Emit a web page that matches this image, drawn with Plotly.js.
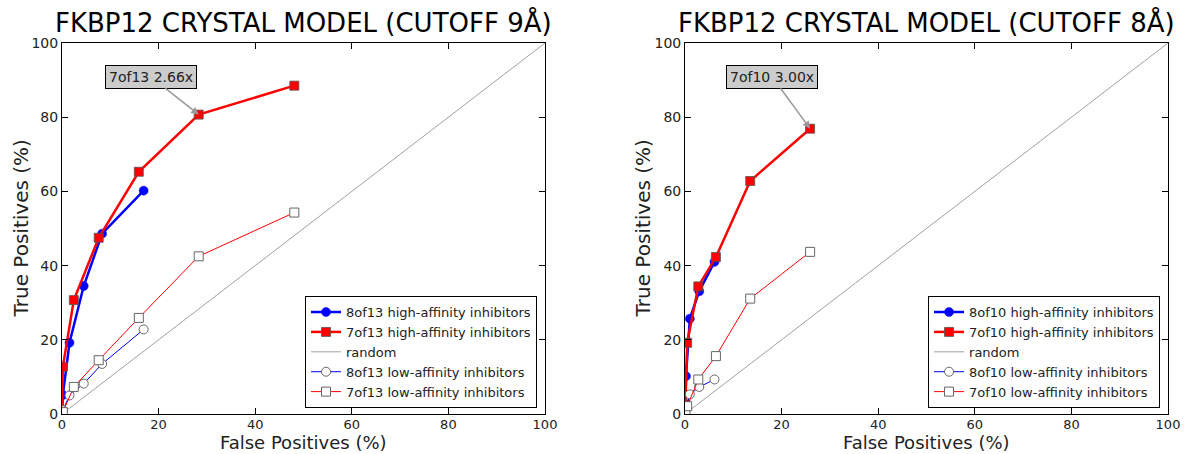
<!DOCTYPE html>
<html>
<head>
<meta charset="utf-8">
<script src="https://cdn.plot.ly/plotly-3.0.1.min.js"></script>
<style>html,body{margin:0;padding:0;background:#fff;}#chart{width:1190px;height:454px;}</style>
</head>
<body>
<div id="chart"></div>
<script>
// ---- Left panel: cutoff 9 Å ----
const leftTitle = "FKBP12 CRYSTAL MODEL (CUTOFF 9Å)";
const leftFP8 = [0, 0.17, 1.55, 4.5, 8.3, 16.9];
const leftTP8High = [0, 5.1, 19.2, 34.5, 48.6, 60.2];
const leftTP8Low = [0, 1.0, 5.0, 8.2, 13.5, 22.8];
const leftFP7 = [0, 0.17, 2.45, 7.6, 15.9, 28.3, 48.1];
const leftTP7High = [0, 12.7, 30.7, 47.5, 65.3, 80.7, 88.5];
const leftTP7Low = [0, 0.5, 7.3, 14.5, 25.9, 42.5, 54.3];
const leftNames = ["8of13 high-affinity inhibitors", "7of13 high-affinity inhibitors", "random", "8of13 low-affinity inhibitors", "7of13 low-affinity inhibitors"];
const leftNote = {text: "7of13 2.66x", x: 28.3, y: 80.7};

// ---- Right panel: cutoff 8 Å ----
const rightTitle = "FKBP12 CRYSTAL MODEL (CUTOFF 8Å)";
const rightFP8 = [0, 0.2, 1.0, 2.95, 6.1];
const rightTP8High = [0, 10.2, 25.7, 33.1, 41.0];
const rightTP8Low = [0, 1.5, 5.3, 7.3, 9.3];
const rightFP7 = [0, 0.1, 0.45, 2.75, 6.4, 13.5, 25.9];
const rightTP7High = [0, 2.6, 19.2, 34.4, 42.3, 62.8, 76.9];
const rightTP7Low = [0, 0.3, 2.1, 9.3, 15.6, 31.1, 43.7];
const rightNames = ["8of10 high-affinity inhibitors", "7of10 high-affinity inhibitors", "random", "8of10 low-affinity inhibitors", "7of10 low-affinity inhibitors"];
const rightNote = {text: "7of10 3.00x", x: 25.9, y: 76.9};

const xTitle = "False Positives (%)";
const yTitle = "True Positives (%)";
const randomLine = [0, 100];
const xTicks = [0, 20, 40, 60, 80, 100];
const yTicks = [0, 20, 40, 60, 80, 100];

function panel(fp8, tp8h, tp8l, fp7, tp7h, tp7l, names, xa, ya, leg) {
  return [
    {x: fp8, y: tp8h, name: names[0], mode: "lines+markers", xaxis: xa, yaxis: ya, legend: leg,
     line: {color: "#0000ff", width: 2.5}, marker: {symbol: "circle", size: 9, color: "#0000ff", line: {color: "#0000ff", width: 0.5}}},
    {x: fp7, y: tp7h, name: names[1], mode: "lines+markers", xaxis: xa, yaxis: ya, legend: leg,
     line: {color: "#ff0000", width: 2.5}, marker: {symbol: "square", size: 9, color: "#ff0000", line: {color: "#555", width: 0.8}}},
    {x: randomLine, y: randomLine, name: names[2], mode: "lines", xaxis: xa, yaxis: ya, legend: leg,
     line: {color: "#888888", width: 0.8}},
    {x: fp8, y: tp8l, name: names[3], mode: "lines+markers", xaxis: xa, yaxis: ya, legend: leg,
     line: {color: "#0000ff", width: 1}, marker: {symbol: "circle", size: 9, color: "#ffffff", line: {color: "#666", width: 1}}},
    {x: fp7, y: tp7l, name: names[4], mode: "lines+markers", xaxis: xa, yaxis: ya, legend: leg,
     line: {color: "#ff0000", width: 1}, marker: {symbol: "square", size: 9, color: "#ffffff", line: {color: "#666", width: 1}}}
  ];
}

const data = [].concat(
  panel(leftFP8, leftTP8High, leftTP8Low, leftFP7, leftTP7High, leftTP7Low, leftNames, "x", "y", "legend"),
  panel(rightFP8, rightTP8High, rightTP8Low, rightFP7, rightTP7High, rightTP7Low, rightNames, "x2", "y2", "legend2")
);

const fam = "DejaVu Sans, sans-serif";
function axis(domain, anchor, ticks, isX) {
  const a = {domain: domain, anchor: anchor, range: [0, 100], tickvals: ticks, ticks: "inside", ticklen: 6,
    tickcolor: "#000", mirror: "ticks", showline: true, linecolor: "#000", linewidth: 1, showgrid: false, zeroline: false,
    tickfont: {family: fam, size: isX ? 13 : 14, color: "#222"}};
  if (isX) a.ticklabelstandoff = -2;
  return a;
}
function legend(xRight) {
  return {x: xRight, xanchor: "right", y: 0.016, yanchor: "bottom", bgcolor: "#fff", bordercolor: "#000", borderwidth: 1,
    font: {family: fam, size: 13, color: "#222"}, tracegroupgap: 0, itemwidth: 30};
}
function note(n, xa, ya, ax, ay) {
  return {text: n.text, x: n.x, y: n.y, xref: xa, yref: ya, showarrow: true, arrowhead: 2, arrowsize: 1, arrowwidth: 1.5,
    arrowcolor: "#999", ax: ax, ay: ay, bgcolor: "#cccccc", bordercolor: "#000", borderwidth: 1, borderpad: 3,
    font: {family: fam, size: 14, color: "#222"}};
}
function label(text, x, y, opts) {
  return Object.assign({text: text, xref: "paper", yref: "paper", x: x, y: y, showarrow: false,
    font: {family: fam, size: 20, color: "#222"}}, opts);
}

const layout = {
  width: 1190, height: 454,
  margin: {l: 62, r: 22, t: 43, b: 40},
  paper_bgcolor: "#fff", plot_bgcolor: "#fff",
  showlegend: true,
  xaxis: axis([0, 0.4367], "y", xTicks, true),
  yaxis: axis([0, 1], "x", yTicks, false),
  xaxis2: axis([0.5633, 1], "y2", xTicks, true),
  yaxis2: axis([0, 1], "x2", yTicks, false),
  legend: legend(0.4295),
  legend2: legend(0.9928),
  annotations: [
    note(leftNote, "x", "y", -48, -38),
    note(rightNote, "x2", "y2", -38, -52),
    label(leftTitle, 0.2183, 1, {xanchor: "center", yanchor: "bottom", yshift: 3, font: {family: fam, size: 26, color: "#000"}}),
    label(rightTitle, 0.7817, 1, {xanchor: "center", yanchor: "bottom", yshift: 3, font: {family: fam, size: 26, color: "#000"}}),
    label(xTitle, 0.2183, 0, {xanchor: "center", yanchor: "top", yshift: -16, font: {family: fam, size: 18, color: "#222"}}),
    label(xTitle, 0.7817, 0, {xanchor: "center", yanchor: "top", yshift: -16, font: {family: fam, size: 18, color: "#222"}}),
    label(yTitle, 0, 0.5, {xanchor: "center", yanchor: "middle", xshift: -42, textangle: -90}),
    label(yTitle, 0.5253, 0.5, {xanchor: "center", yanchor: "middle", textangle: -90})
  ]
};

Plotly.newPlot("chart", data, layout, {displayModeBar: false, staticPlot: true});
</script>
</body>
</html>
